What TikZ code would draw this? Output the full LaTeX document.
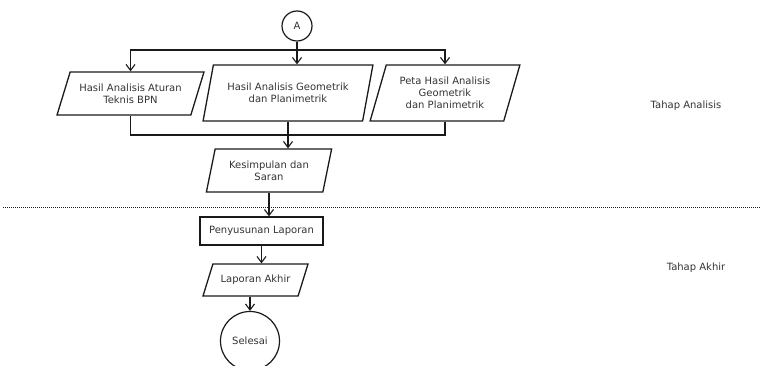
\documentclass[tikz,border=0pt]{standalone}
\usepackage{fontspec}
\setmainfont{DejaVu Sans}
\usetikzlibrary{arrows.meta,shapes.geometric}
\definecolor{cLine}{HTML}{1A1A1A}
\definecolor{cText}{HTML}{333333}
\tikzset{
  io/.style={trapezium, trapezium stretches=true, trapezium left angle=#1,
             trapezium right angle={180-#1}, draw=cLine, line width=1.3pt,
             text=cText, align=center, inner sep=2pt},
  proc/.style={rectangle, draw=cLine, line width=1.2pt, text=cText, inner sep=2pt},
  term/.style={circle, draw=cLine, line width=1.2pt, text=cText, inner sep=0pt},
  flow/.style={-{Straight Barb[length=6pt,width=9pt]}, line width=1.1pt, draw=cLine},
  link/.style={line width=1.1pt, draw=cLine},
  sep/.style={dash pattern=on 1pt off 1pt, line width=1pt, draw=cLine},
  lbl/.style={text=cText},
}

\begin{document}
\begin{tikzpicture}[x=1pt,y=-1pt,font=\fontsize{10}{12}\selectfont]
  \useasboundingbox (0,0) rectangle (760,366);
  % tahap analisis
  \node[term, minimum size=30pt] (A) at (297,26) {A};
  \node[io=64, minimum width=147pt, minimum height=43pt] (hasil1) at (130.5,93.5) {Hasil Analisis Aturan\\Teknis BPN};
  \node[io=70, minimum width=170pt, minimum height=56pt] (hasil2) at (288,93) {Hasil Analisis Geometrik\\dan Planimetrik};
  \node[io=70, minimum width=150pt, minimum height=56pt] (peta) at (445,93) {Peta Hasil Analisis\\Geometrik\\dan Planimetrik};
  \node[io=74, minimum width=126pt, minimum height=43pt] (kes) at (269,170.5) {Kesimpulan dan\\Saran};
  % tahap akhir
  \node[proc, minimum width=123pt, minimum height=28pt] (susun) at (261.5,231) {Penyusunan Laporan};
  \node[io=58, minimum width=105pt, minimum height=32pt] (akhir) at (255.5,280) {Laporan Akhir};
  \node[term, minimum size=59pt] (selesai) at (250,341) {Selesai};
  \node[lbl] (tAnalisis) at (686,106) {Tahap Analisis};
  \node[lbl] (tAkhir) at (696,268) {Tahap Akhir};
  % garis pemisah
  \coordinate (sepL) at (3,208);
  \coordinate (sepR) at (760,208);
  \draw[sep] (sepL) -- (sepR);
  % alur
  \coordinate (split) at (297,50);
  \coordinate (merge) at (278,135);
  \draw[flow] (A.south) -- (A.south |- hasil2.north);
  \draw[flow] (split) -| (hasil1.north);
  \draw[flow] (split) -| (peta.north);
  \draw[link] (hasil1.south) |- (merge) -| (peta.south);
  \draw[flow] (hasil2.south) -- (hasil2.south |- kes.north);
  \draw[flow] (kes.south) -- (kes.south |- susun.north);
  \draw[flow] (susun.south) -- (susun.south |- akhir.north);
  \draw[flow] (akhir.south -| selesai.north) -- (selesai.north);
\end{tikzpicture}
\end{document}
